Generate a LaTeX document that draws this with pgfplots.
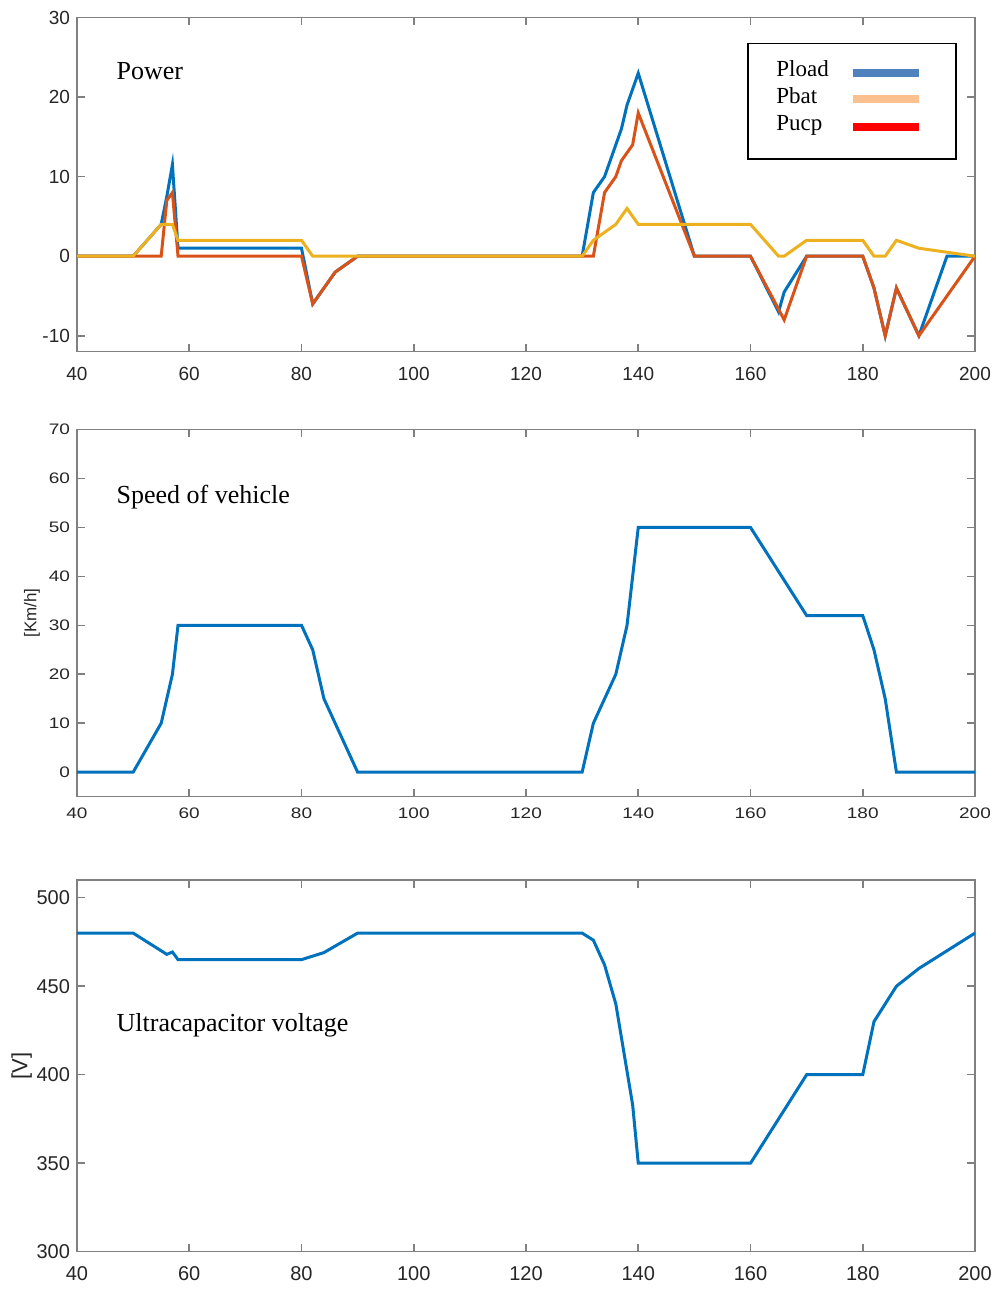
\documentclass[border=0pt]{standalone}
\usepackage{fontspec}
\setmainfont{Liberation Serif}
\newfontfamily\arial{Liberation Sans}
\usepackage{pgfplots}
\pgfplotsset{compat=1.18}
\definecolor{mblue}{HTML}{0072BD}
\definecolor{morange}{HTML}{D95319}
\definecolor{myellow}{HTML}{EDB120}
\definecolor{lgblue}{HTML}{4F81BD}
\definecolor{lgbat}{HTML}{FAC08F}
\definecolor{lgred}{HTML}{FF0000}
\definecolor{axgray}{HTML}{808080}
\definecolor{tickc}{HTML}{262626}
\pgfplotsset{
  mystyle/.style={
    scale only axis, width=449pt,
    xmin=40, xmax=200, xtick={40,60,...,200},
    axis line style={axgray, line width=0.8pt},
    tick style={axgray, line width=0.8pt},
    tick align=inside, major tick length=4pt,
    xtick pos=both, ytick pos=both,
    xticklabel pos=lower, yticklabel pos=left,
    ticklabel style={text=tickc},
    /pgf/number format/assume math mode=true,
    every axis plot/.append style={line width=1.5pt},
    anchor=south west,
  }
}
\begin{document}
\begin{tikzpicture}
\useasboundingbox (0,0) rectangle (498pt,645pt);
% ---------------- Power
\begin{axis}[mystyle, at={(38.5pt,469.15pt)}, height=167.1pt,
  ymin=-12, ymax=30, ytick={-10,0,10,20,30},
  ticklabel style={font=\arial\fontsize{9.5}{11}\selectfont},
  xticklabel shift=4pt,
  legend cell align=left, legend plot pos=right,
  legend image code/.code={\draw (0pt,-0.3pt) -- (33pt,-0.3pt);},
  legend style={at={(rel axis cs:0.7784,0.8788)}, anchor=north west,
    draw=none, fill=none, inner sep=0pt,
    font=\fontsize{11.5}{13}\selectfont,
    nodes={inner sep=0pt, text height=9pt, text depth=4.5pt},
    /tikz/column sep=10pt},
]
\addlegendimage{lgblue, line width=4pt}
\addlegendentry{Pload}
\addlegendimage{lgbat, line width=4pt}
\addlegendentry{Pbat}
\addlegendimage{lgred, line width=4pt}
\addlegendentry{Pucp}
\addplot[mblue, forget plot] coordinates {
(40,0)(50,0)(55,4)(56,7.5)(57,11.5)(58,1)(80,1)(82,-6)(86,-2)(90,0)
(130,0)(132,8)(134,10)(137,16)(138,19)(140,23)(150,0)(160,0)(165,-7)
(166,-4.5)(170,0)(180,0)(182,-4)(184,-10)(186,-4)(190,-10)(195,0)(200,0)};
\addplot[morange, forget plot] coordinates {
(40,0)(55,0)(56,7)(57,8)(58,0)(80,0)(82,-6)(86,-2)(90,0)(132,0)(134,8)
(136,10)(137,12)(139,14)(140,18)(150,0)(160,0)(166,-8)(170,0)(180,0)
(182,-4)(184,-10)(186,-4)(190,-10)(200,0)};
\addplot[myellow, forget plot] coordinates {
(40,0)(50,0)(55,4)(57,4)(58,2)(80,2)(82,0)(130,0)(132,2)(134,3)(136,4)
(138,6)(140,4)(160,4)(165,0)(166,0)(170,2)(180,2)(182,0)(184,0)(186,2)
(190,1)(195,0.5)(200,0)};
\draw[black, line width=0.7pt] (rel axis cs:0.7472,0.9228) rectangle (rel axis cs:0.9788,0.5766);
\node[anchor=base west, inner sep=0pt, font=\fontsize{13}{15}\selectfont] at (axis cs:47,22.2) {Power};
\end{axis}
% ---------------- Speed
\begin{axis}[mystyle, at={(38.5pt,246.65pt)}, height=183.6pt,
  ymin=-5, ymax=70, ytick={0,10,...,70},
  ticklabel style={font=\arial\fontsize{9.5}{11}\selectfont, yscale=0.8},
  xticklabel shift=3pt,
  ylabel={[Km/h]},
  ylabel style={font=\arial\fontsize{8.5}{10}\selectfont, text=tickc,
    at={(axis description cs:-0.0501,0.5)}, anchor=center},
]
\addplot[mblue] coordinates {
(40,0)(50,0)(55,10)(57,20)(58,30)(80,30)(82,25)(84,15)(90,0)(130,0)
(132,10)(136,20)(138,30)(140,50)(160,50)(170,32)(180,32)(182,25)(184,15)
(186,0)(200,0)};
\node[anchor=base west, inner sep=0pt, font=\fontsize{13}{15}\selectfont] at (axis cs:47,54.8) {Speed of vehicle};
\end{axis}
% ---------------- Voltage
\begin{axis}[mystyle, at={(38.5pt,19.15pt)}, height=185.85pt,
  ymin=300, ymax=510, ytick={300,350,...,500},
  ticklabel style={font=\arial\fontsize{10}{12}\selectfont},
  xticklabel shift=4pt,
  ylabel={[V]},
  ylabel style={font=\arial\fontsize{11}{13}\selectfont, text=tickc,
    at={(axis description cs:-0.0616,0.5)}, anchor=center},
]
\addplot[mblue] coordinates {
(40,480)(50,480)(56,468)(57,469.3)(58,465)(80,465)(84,469)(90,480)
(130,480)(132,476)(134,462)(136,440)(139,383)(140,350)(160,350)(170,400)
(180,400)(182,430)(186,450)(190,460)(200,480)};
\node[anchor=base west, inner sep=0pt, font=\fontsize{13}{15}\selectfont] at (axis cs:47,424.3) {Ultracapacitor voltage};
\end{axis}
\end{tikzpicture}
\end{document}
